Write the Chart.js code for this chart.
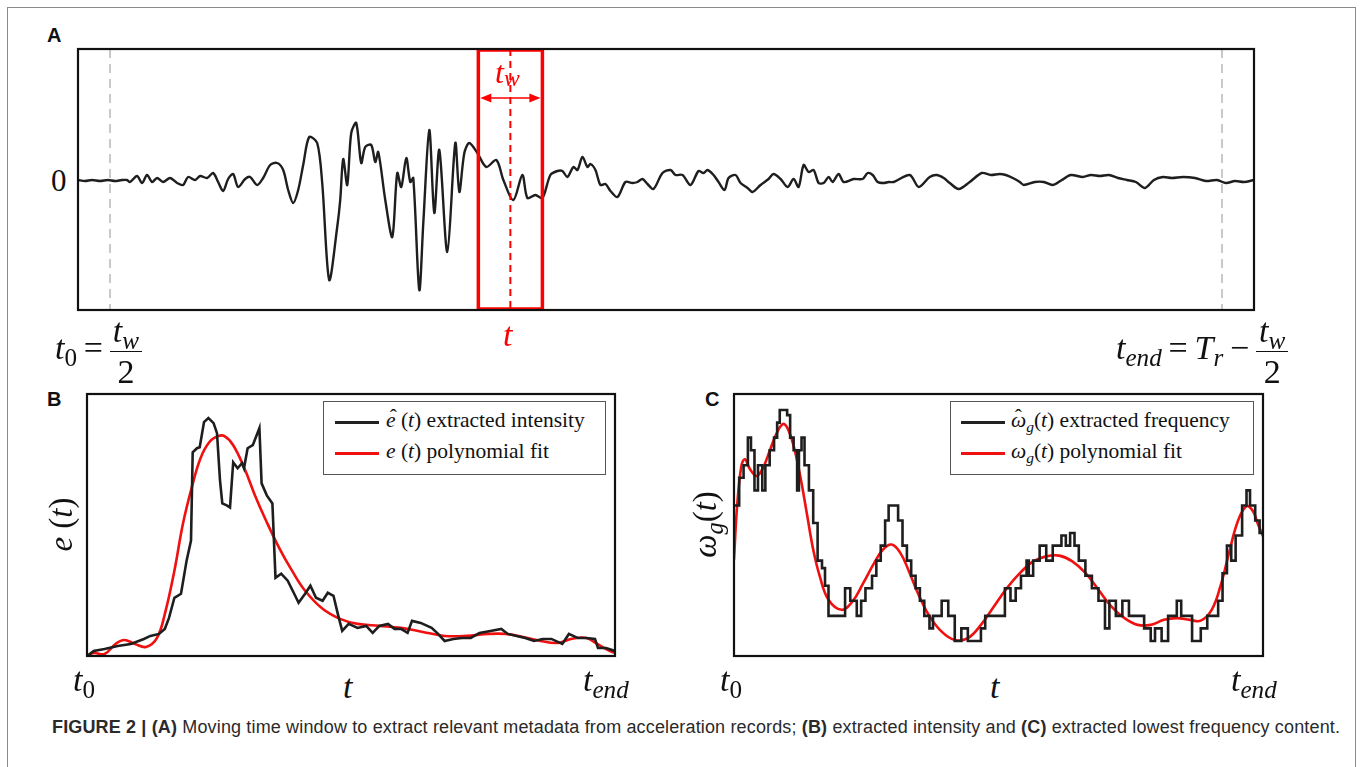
<!DOCTYPE html>
<html>
<head>
<meta charset="utf-8">
<script src="https://cdn.jsdelivr.net/npm/chart.js@4.4.1/dist/chart.umd.min.js"></script>
<style>
  body { margin: 0; background: #fff; }
  #fig { position: relative; width: 1360px; height: 767px; overflow: hidden; background: #fff; }
  #frame { position: absolute; left: 7px; top: 7px; width: 1347px; height: 780px; border: 1.5px solid #8a8a8a; }
  canvas { position: absolute; }
  .lbl { position: absolute; font-family: "Liberation Sans", Arial, sans-serif; font-weight: bold; font-size: 20px; color: #111; }
  .math { position: absolute; font-family: "Liberation Serif", "Times New Roman", serif; font-size: 34px; color: #111; white-space: nowrap; line-height: 1; }
  .math i { font-style: italic; }
  .math sub { font-size: 0.74em; vertical-align: -0.28em; line-height: 0; }
  .math .op { margin: 0 0.2em; }
  .frac { display: inline-block; vertical-align: middle; text-align: center; }
  .frac .num { display: block; border-bottom: 1.6px solid #111; padding: 0 3px 3px 3px; }
  .frac .den { display: block; padding-top: 3px; }
  .legend { position: absolute; border: 1.5px solid #555; background: #fff; font-family: "Liberation Serif", serif; font-size: 21.5px; color: #111; }
  .legend i { font-style: italic; }
  .legend sub { font-size: 0.72em; vertical-align: -0.3em; line-height: 0; }
  .legend .swatch { position: absolute; height: 0; border-top: 3px solid; }
  .legend .txt { position: absolute; white-space: nowrap; line-height: 1; }
  .hat { position: relative; display: inline-block; }
  .hat::after { content: "\02C6"; position: absolute; left: 0.18em; top: -0.12em; font-style: normal; }
  .rot { transform: rotate(-90deg); transform-origin: center center; }
  #caption { position: absolute; left: 52px; top: 717px; font-family: "Liberation Sans", Arial, sans-serif; font-size: 18px; letter-spacing: 0.15px; color: #2a2a2a; white-space: nowrap; }
</style>
</head>
<body>
<div id="fig">
  <div id="frame"></div>

  <div class="lbl" style="left:47px; top:24px;">A</div>
  <div class="lbl" style="left:47px; top:388px;">B</div>
  <div class="lbl" style="left:705px; top:388px;">C</div>

  <canvas id="chartA" width="1196" height="281" style="left:68px; top:39px;"></canvas>
  <canvas id="chartB" width="548" height="282" style="left:77px; top:384px;"></canvas>
  <canvas id="chartC" width="549" height="282" style="left:724px; top:384px;"></canvas>

  <!-- panel A labels -->
  <div class="math" style="left:51px; top:165px; font-size:31px;">0</div>
  <div class="math" style="left:495px; top:56px; color:#f00; font-size:32px;"><i>t</i><sub style="vertical-align:-0.12em;"><i>w</i></sub></div>
  <div class="math" style="left:503px; top:318px; color:#f00;"><i>t</i></div>
  <div class="math" style="left:55px; top:314px;">
    <i>t</i><sub>0</sub><span class="op">=</span><span class="frac"><span class="num"><i>t</i><sub><i>w</i></sub></span><span class="den">2</span></span>
  </div>
  <div class="math" style="left:1116px; top:314px;">
    <i>t</i><sub><i>end</i></sub><span class="op">=</span><i>T</i><sub><i>r</i></sub><span class="op">−</span><span class="frac"><span class="num"><i>t</i><sub><i>w</i></sub></span><span class="den">2</span></span>
  </div>

  <!-- panel B labels -->
  <div class="math rot" style="left:34px; top:508px; font-size:33px;"><i>e</i> (<i>t</i>)</div>
  <div class="math" style="left:73px; top:663px;"><i>t</i><sub>0</sub></div>
  <div class="math" style="left:343px; top:670px;"><i>t</i></div>
  <div class="math" style="left:583px; top:663px;"><i>t</i><sub><i>end</i></sub></div>
  <div class="legend" style="left:323px; top:401px; width:281px; height:72px;">
    <div class="swatch" style="left:11px; top:19px; width:44px; border-color:#222;"></div>
    <div class="txt" style="left:62px; top:8px;"><i class="hat">e</i> (<i>t</i>) extracted intensity</div>
    <div class="swatch" style="left:11px; top:50px; width:44px; border-color:#f01010;"></div>
    <div class="txt" style="left:62px; top:39px;"><i>e</i> (<i>t</i>) polynomial fit</div>
  </div>

  <!-- panel C labels -->
  <div class="math rot" style="left:672px; top:508px; font-size:33px;"><i>ω</i><sub><i>g</i></sub>(<i>t</i>)</div>
  <div class="math" style="left:720px; top:663px;"><i>t</i><sub>0</sub></div>
  <div class="math" style="left:990px; top:670px;"><i>t</i></div>
  <div class="math" style="left:1231px; top:663px;"><i>t</i><sub><i>end</i></sub></div>
  <div class="legend" style="left:950px; top:401px; width:302px; height:72px;">
    <div class="swatch" style="left:10px; top:19px; width:44px; border-color:#222;"></div>
    <div class="txt" style="left:60px; top:8px;"><i class="hat">ω</i><sub><i>g</i></sub>(<i>t</i>) extracted frequency</div>
    <div class="swatch" style="left:10px; top:50px; width:44px; border-color:#f01010;"></div>
    <div class="txt" style="left:60px; top:39px;"><i>ω</i><sub><i>g</i></sub>(<i>t</i>) polynomial fit</div>
  </div>

  <div id="caption"><b>FIGURE 2 | (A)</b> Moving time window to extract relevant metadata from acceleration records; <b>(B)</b> extracted intensity and <b>(C)</b> extracted lowest frequency content.</div>
</div>

<script>
// ---- data ----

// Panel A: acceleration record (time in s, acceleration)
const tRecord = 47;
const tW = 2.56;      // window width
const tNow = 17.28;   // window centre
const tA = [0,0.28,0.56,0.88,1.2,1.48,1.76,1.96,2.08,2.36,2.56,2.76,2.96,3.16,3.4,3.68,3.96,4.2,4.4,4.68,
    4.88,5.16,5.4,5.6,5.8,6.0,6.2,6.4,6.68,6.88,7.16,7.4,7.68,7.96,8.2,8.4,8.6,8.8,9.0,9.24,
    9.56,9.76,10.04,10.36,10.48,10.6,10.76,10.92,11.12,11.32,11.48,11.72,11.88,12.0,12.28,12.56,12.76,12.92,13.12,13.28,
    13.4,13.64,13.8,14.04,14.24,14.44,14.76,15.08,15.24,15.44,15.64,15.96,16.32,16.72,17.0,17.4,17.76,17.96,18.28,18.56,
    18.88,19.16,19.36,19.56,19.8,19.96,20.16,20.36,20.48,20.68,20.88,21.08,21.28,21.56,21.88,22.16,22.36,22.56,22.76,23.0,
    23.36,23.68,23.88,24.16,24.48,24.8,25.0,25.16,25.4,25.6,25.84,26.0,26.28,26.48,26.76,26.96,27.28,27.6,27.8,28.08,
    28.36,28.6,28.8,29.0,29.2,29.4,29.6,29.8,30.0,30.16,30.4,30.6,31.0,31.36,31.56,31.76,31.96,32.2,32.4,32.6,
    33.24,33.6,34.04,34.32,34.6,34.84,35.2,35.64,36.12,36.48,36.84,37.08,37.36,37.64,37.8,38.24,38.6,38.96,39.32,39.68,
    40.16,40.48,40.84,41.2,41.56,41.92,42.28,42.64,43.0,43.36,43.72,44.16,44.64,45.08,45.52,45.88,46.24,46.6,47];
const accA = [0,-0.01,0,-0.01,0,-0.01,0,0,-0.02,0.04,-0.03,0.05,-0.02,0.02,-0.02,0.02,-0.03,-0.05,0.03,0,
    0.04,0.02,0.07,-0.02,-0.11,0.01,0.06,-0.07,0.01,0.03,-0.05,0.02,0.15,0.17,0.10,-0.10,-0.23,-0.10,0.15,0.43,
    0.37,-0.03,-1.00,-0.47,-0.20,0.21,-0.05,0.47,0.57,0.17,0.33,0.35,0.18,0.28,-0.20,-0.57,0.07,-0.07,0.22,-0.02,
    0.02,-1.10,-0.43,0.50,-0.33,0.30,-0.72,0.37,-0.12,0.27,0.37,0.27,0.13,0.20,0,-0.20,0.05,-0.18,-0.15,-0.18,
    0.05,0.09,0.09,0.03,0.13,0.10,0.23,0.13,0.16,0.10,-0.05,-0.04,-0.11,-0.17,-0.02,-0.03,-0.02,0.01,-0.04,-0.09,
    0.07,0.10,0.05,0.05,-0.05,0.09,0.07,0.10,0.05,-0.02,-0.10,0.02,0.05,-0.03,-0.08,-0.12,-0.05,0.01,0.06,0.01,
    -0.07,0.01,-0.07,0.15,0.08,0.10,-0.03,-0.03,0.03,-0.02,0.06,-0.02,0.01,0.01,0.07,0.05,-0.02,-0.03,-0.02,-0.02,
    0.05,-0.07,0.03,0.05,0.02,-0.03,-0.09,-0.02,0.07,0.05,0.06,0.05,0.02,-0.02,-0.05,-0.02,-0.02,-0.05,0,0.05,
    0.03,0.05,0.04,0.05,0.02,0,-0.02,-0.08,0,0.03,0.02,0.03,0.02,-0.01,0,-0.03,-0.01,-0.02,0];

// Panel B: extracted intensity and its polynomial fit
const tB = [0,0.67,1.76,3.07,4.38,5.69,6.34,7.2,7.78,8.2,8.74,9.4,9.96,10.4,10.57,11.0,11.27,11.7,12.14,12.66,
    13.0,13.3,13.53,13.97,14.3,14.62,15.06,15.5,15.7,16.06,16.58,17.24,17.46,17.98,18.54,18.85,19.42,20.07,20.72,21.16,
    21.81,22.34,22.9,23.56,24.08,24.65,25.08,25.52,26.17,27.05,27.92,28.57,29.23,30.1,30.75,31.4,32.06,32.5,33.37,34.46,
    35.11,35.76,36.64,37.5,38.38,39.25,40.34,41.43,42.08,42.96,43.83,44.7,45.57,46.44,47.53,48.19,49.06,49.93,50.8,51.1,
    51.9,52.8];
const eHat = [0,0.02,0.028,0.04,0.048,0.068,0.08,0.088,0.108,0.152,0.232,0.248,0.38,0.46,0.812,0.828,0.832,0.932,0.948,0.928,
    0.888,0.70,0.608,0.60,0.592,0.772,0.748,0.768,0.748,0.828,0.84,0.908,0.688,0.64,0.608,0.312,0.328,0.30,0.248,0.212,
    0.248,0.28,0.232,0.22,0.252,0.24,0.168,0.10,0.128,0.112,0.12,0.092,0.12,0.128,0.108,0.108,0.092,0.14,0.132,0.112,
    0.088,0.06,0.068,0.072,0.072,0.092,0.10,0.108,0.088,0.08,0.072,0.06,0.068,0.068,0.048,0.088,0.072,0.072,0.068,0.032,
    0.032,0.02];
const tBfit = [0,0.67,1.76,2.85,3.72,4.8,5.9,7.0,7.86,8.74,9.6,10.48,11.35,12.22,13.1,13.75,14.62,15.7,16.8,17.9,
    19.2,20.5,21.81,23.56,25.3,27.05,29.23,31.4,33.58,35.76,37.94,40.12,41.87,43.6,45.35,47.1,48.4,49.93,51.02,52.1,52.8];
const eFit = [0,0.012,0.008,0.048,0.064,0.048,0.036,0.072,0.18,0.34,0.528,0.672,0.788,0.852,0.876,0.876,0.84,0.752,0.64,0.54,
    0.432,0.34,0.26,0.188,0.148,0.128,0.12,0.112,0.096,0.08,0.08,0.088,0.088,0.076,0.06,0.052,0.068,0.072,0.048,0.024,0.012];

// Panel C: extracted lowest frequency (stepwise) and its polynomial fit
const tC = [0,0.52,0.96,1.39,1.70,2.05,2.40,2.83,3.14,3.57,4.01,4.32,4.58,5.32,5.62,5.97,6.32,6.50,6.76,7.06,
    7.50,7.93,8.37,8.81,9.11,9.46,11.12,11.64,12.29,12.73,13.16,13.82,14.25,14.69,15.13,15.48,16.43,16.87,17.31,17.74,
    18.18,18.61,19.05,19.57,19.92,20.79,21.45,22.10,22.76,23.41,24.72,25.15,27.12,27.68,28.20,28.73,29.29,29.51,29.95,30.60,
    31.26,31.91,32.78,33.22,33.65,34.09,34.52,35.18,35.83,36.49,37.14,37.58,38.23,38.88,39.54,41.06,41.72,42.15,42.81,43.46,
    44.33,44.77,45.86,46.73,47.38,48.47,48.91,49.35,49.78,50.22,50.87,51.31,51.66,52.18,52.62,52.96];
const omegaHat = [0.60,0.71,0.76,0.87,0.82,0.66,0.76,0.66,0.76,0.82,0.87,0.93,0.98,0.96,0.87,0.82,0.66,0.82,0.87,0.76,
    0.66,0.53,0.38,0.35,0.28,0.16,0.27,0.22,0.16,0.22,0.27,0.32,0.38,0.44,0.54,0.60,0.54,0.44,0.38,0.32,
    0.27,0.22,0.16,0.11,0.16,0.22,0.16,0.06,0.11,0.06,0.11,0.16,0.27,0.22,0.27,0.32,0.38,0.32,0.38,0.44,
    0.38,0.44,0.48,0.44,0.49,0.44,0.38,0.32,0.27,0.22,0.11,0.22,0.16,0.22,0.16,0.11,0.06,0.11,0.06,0.16,
    0.22,0.16,0.06,0.11,0.16,0.22,0.33,0.44,0.38,0.48,0.60,0.66,0.60,0.54,0.49,0.49];
const tCfit = [0,0.31,0.74,1.09,1.61,2.27,2.92,3.57,4.23,4.88,5.32,5.97,6.63,7.28,7.93,8.59,9.46,10.77,11.86,12.95,
    14.04,14.91,15.78,16.65,17.52,18.40,19.49,20.79,22.10,23.41,24.72,26.02,27.33,28.64,29.95,31.26,32.56,33.87,35.18,36.49,
    37.79,39.10,40.41,41.72,43.03,44.33,45.64,46.73,47.82,48.69,49.56,50.44,51.31,51.96,52.40,52.96];
const omegaFit = [0.384,0.597,0.757,0.784,0.744,0.717,0.751,0.817,0.884,0.924,0.911,0.837,0.717,0.571,0.424,0.317,0.224,0.184,0.217,0.291,
    0.371,0.424,0.444,0.411,0.337,0.251,0.164,0.097,0.064,0.071,0.124,0.197,0.271,0.331,0.377,0.397,0.40,0.377,0.331,0.264,
    0.197,0.151,0.124,0.124,0.144,0.151,0.144,0.141,0.184,0.277,0.411,0.537,0.597,0.577,0.531,0.477];

// ---- helpers ----
const black = '#1e1e1e';
const red = '#f01010';

function pts(xs, ys) {
    return xs.map((x, i) => ({ x: x, y: ys[i] }));
}

// black box round the plot area
const framePlugin = {
    id: 'frame',
    afterDraw(chart) {
        const { ctx, chartArea: a } = chart;
        ctx.save();
        ctx.strokeStyle = '#111';
        ctx.lineWidth = 2.2;
        ctx.setLineDash([]);
        ctx.strokeRect(a.left, a.top, a.right - a.left, a.bottom - a.top);
        ctx.restore();
    }
};

// dashed limits, moving window and its width arrow
const windowPlugin = {
    id: 'windowBox',
    beforeDatasetsDraw(chart) {
        const { ctx, chartArea: a, scales: { x } } = chart;
        ctx.save();
        ctx.strokeStyle = '#c9c9c9';
        ctx.lineWidth = 2;
        ctx.setLineDash([9, 6]);
        [tW / 2, tRecord - tW / 2].forEach(v => {
            const px = x.getPixelForValue(v);
            ctx.beginPath();
            ctx.moveTo(px, a.top);
            ctx.lineTo(px, a.bottom);
            ctx.stroke();
        });
        ctx.restore();
    },
    afterDatasetsDraw(chart) {
        const { ctx, chartArea: a, scales: { x, y } } = chart;
        const left = x.getPixelForValue(tNow - tW / 2);
        const right = x.getPixelForValue(tNow + tW / 2);
        const mid = x.getPixelForValue(tNow);
        ctx.save();
        ctx.strokeStyle = '#ff0000';
        ctx.fillStyle = '#ff0000';
        // centre line
        ctx.lineWidth = 2;
        ctx.setLineDash([7, 5]);
        ctx.beginPath();
        ctx.moveTo(mid, a.top);
        ctx.lineTo(mid, a.bottom);
        ctx.stroke();
        // window box
        ctx.setLineDash([]);
        ctx.lineWidth = 3.5;
        ctx.strokeRect(left, a.top + 1, right - left, a.bottom - a.top - 2);
        // width arrow
        const ay = y.getPixelForValue(0.82);
        ctx.lineWidth = 1.6;
        ctx.beginPath();
        ctx.moveTo(left + 4, ay);
        ctx.lineTo(right - 4, ay);
        ctx.stroke();
        [[left + 2, 1], [right - 2, -1]].forEach(([px, d]) => {
            ctx.beginPath();
            ctx.moveTo(px, ay);
            ctx.lineTo(px + d * 11, ay - 4.5);
            ctx.lineTo(px + d * 11, ay + 4.5);
            ctx.closePath();
            ctx.fill();
        });
        ctx.restore();
    }
};

function baseOptions(xMax, yMin, yMax) {
    return {
        responsive: false,
        devicePixelRatio: 1,
        animation: false,
        layout: { padding: 10 },
        scales: {
            x: { type: 'linear', min: 0, max: xMax, display: false },
            y: { type: 'linear', min: yMin, max: yMax, display: false }
        },
        plugins: {
            legend: { display: false },
            tooltip: { enabled: false }
        },
        elements: { point: { radius: 0 } }
    };
}

// ---- Panel A ----
new Chart(document.getElementById('chartA'), {
    type: 'line',
    data: {
        datasets: [{
            data: pts(tA, accA),
            borderColor: black,
            borderWidth: 2.4,
            tension: 0.3
        }]
    },
    options: baseOptions(tRecord, -1.3, 1.31),
    plugins: [windowPlugin, framePlugin]
});

// ---- Panel B ----
new Chart(document.getElementById('chartB'), {
    type: 'line',
    data: {
        datasets: [{
            data: pts(tB, eHat),
            borderColor: black,
            borderWidth: 2.6,
            tension: 0
        }, {
            data: pts(tBfit, eFit),
            borderColor: red,
            borderWidth: 2.6,
            tension: 0.4
        }]
    },
    options: baseOptions(52.8, 0, 1.044),
    plugins: [framePlugin]
});

// ---- Panel C ----
new Chart(document.getElementById('chartC'), {
    type: 'line',
    data: {
        datasets: [{
            data: pts(tC, omegaHat),
            borderColor: black,
            borderWidth: 2.6,
            stepped: true
        }, {
            data: pts(tCfit, omegaFit),
            borderColor: red,
            borderWidth: 2.6,
            tension: 0.4
        }]
    },
    options: baseOptions(52.96, 0, 1.044),
    plugins: [framePlugin]
});
</script>
</body>
</html>
